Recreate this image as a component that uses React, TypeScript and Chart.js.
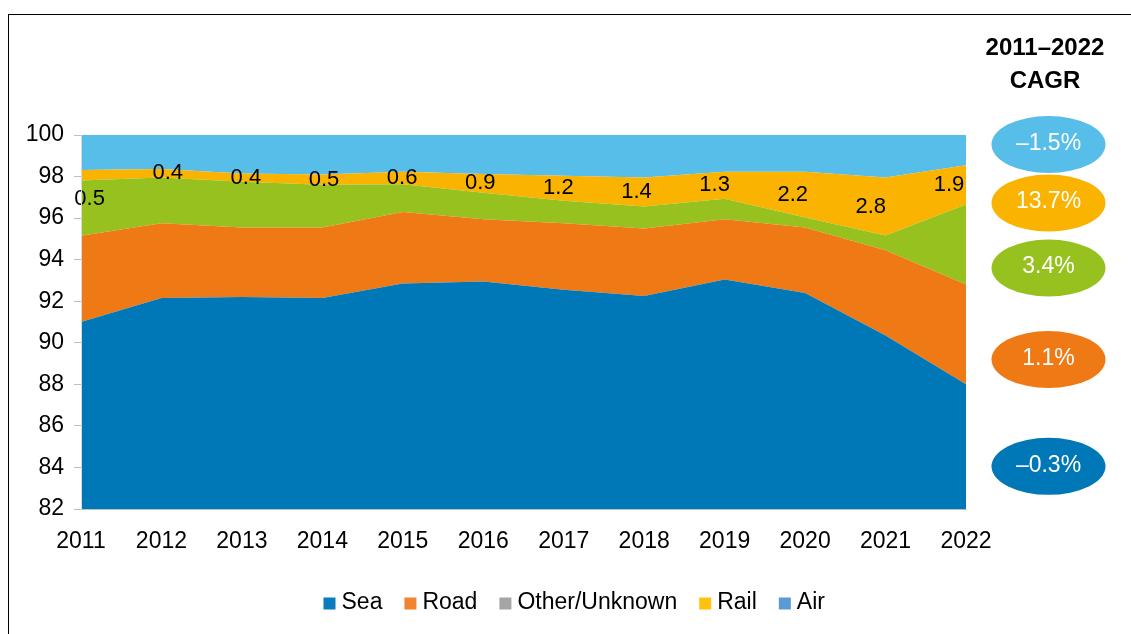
import React, { useEffect, useRef } from 'react';
import { Chart, registerables } from 'chart.js';

Chart.register(...registerables);

const years = ['2011', '2012', '2013', '2014', '2015', '2016', '2017', '2018', '2019', '2020', '2021', '2022'];
const seriesNames = ['Sea', 'Road', 'Other/Unknown', 'Rail', 'Air'];
const sea = [91.0, 92.15, 92.2, 92.15, 92.85, 92.95, 92.55, 92.25, 93.05, 92.4, 90.35, 88.0];
const road = [4.15, 3.6, 3.35, 3.4, 3.45, 3.0, 3.2, 3.25, 2.9, 3.15, 4.1, 4.8];
const other = [2.66, 2.21, 2.2, 2.05, 1.33, 1.27, 1.09, 1.06, 0.98, 0.48, 0.71, 3.85];
const rail = [0.5, 0.4, 0.4, 0.5, 0.6, 0.9, 1.2, 1.4, 1.3, 2.2, 2.8, 1.9];
const air = [1.69, 1.64, 1.85, 1.9, 1.77, 1.88, 1.96, 2.04, 1.77, 1.77, 2.04, 1.45];
const areaColors = ['#0077B6', '#EF7A15', '#97C11F', '#F9B300', '#57BDE9'];
const legendColors = ['#0A7BBF', '#F08433', '#A5A5A5', '#FFC20E', '#5B9BD5'];
const cagrTitle = ['2011–2022', 'CAGR'];
const cagrLabels = ['–1.5%', '13.7%', '3.4%', '1.1%', '–0.3%'];
const cagrColors = ['#57BDE9', '#F9B300', '#97C11F', '#EF7A15', '#0077B6'];
const yTicks = { min: 82, max: 100, step: 2 };

const FONT = '"Liberation Sans", Arial, Helvetica, sans-serif';

const overlayPlugin = {
  id: 'overlay',
  afterDatasetsDraw(chart: any) {
    const ctx = chart.ctx;
    const area = chart.chartArea;
    const railMeta = chart.getDatasetMeta(3);
    const otherMeta = chart.getDatasetMeta(2);
    ctx.save();
    ctx.font = `22px ${FONT}`;
    ctx.fillStyle = '#000';
    ctx.textAlign = 'center';
    ctx.textBaseline = 'middle';
    railMeta.data.forEach((pt: any, i: number) => {
      const lower = otherMeta.data[i];
      const x = area.left + 8.6 + (pt.x - area.left) * 0.971;
      let y = (pt.y + lower.y) / 2;
      if (i === 0) y += 24;
      ctx.fillText(rail[i].toFixed(1), x, y);
    });
    ctx.restore();
  },
  afterDraw(chart: any) {
    const ctx = chart.ctx;
    const area = chart.chartArea;
    ctx.save();
    // CAGR title
    ctx.font = `bold 24px ${FONT}`;
    ctx.fillStyle = '#000';
    ctx.textAlign = 'center';
    ctx.textBaseline = 'middle';
    const tx = area.right + 79;
    ctx.fillText(cagrTitle[0], tx, area.top - 87);
    ctx.fillText(cagrTitle[1], tx, area.top - 54);
    // ellipses
    const cx = area.right + 82.5;
    const offs = [9.5, 68, 133, 224.5, 331.3];
    ctx.font = `23px ${FONT}`;
    cagrLabels.forEach((lab, i) => {
      const cy = area.top + offs[i];
      ctx.beginPath();
      ctx.ellipse(cx, cy, 57, 28.5, 0, 0, Math.PI * 2);
      ctx.fillStyle = cagrColors[i];
      ctx.fill();
      ctx.fillStyle = '#fff';
      ctx.fillText(lab, cx, cy - 1);
    });
    // legend
    ctx.font = `23px ${FONT}`;
    ctx.textAlign = 'left';
    let x = 323.5;
    const ly = 603;
    seriesNames.forEach((name, i) => {
      ctx.fillStyle = legendColors[i];
      ctx.fillRect(x, ly - 5.5, 12, 12);
      ctx.fillStyle = '#000';
      ctx.fillText(name, x + 18, ly);
      x += 18 + ctx.measureText(name).width + 22;
    });
    ctx.restore();
  },
};

export default function App() {
  const ref = useRef<HTMLCanvasElement | null>(null);
  useEffect(() => {
    if (!ref.current) return;
    const values = [sea, road, other, rail, air];
    const chart = new Chart(ref.current, {
      type: 'line',
      data: {
        labels: years,
        datasets: values.map((arr, i) => ({
          label: seriesNames[i],
          data: arr,
          backgroundColor: areaColors[i],
          borderColor: areaColors[i],
          borderWidth: 0,
          pointRadius: 0,
          fill: i === 0 ? 'start' : '-1',
          tension: 0,
        })),
      },
      options: {
        animation: false,
        responsive: false,
        layout: { padding: { left: 0, right: 165, top: 135, bottom: 0 } },
        plugins: { legend: { display: false }, tooltip: { enabled: false } },
        scales: {
          x: {
            type: 'category',
            offset: false,
            grid: { display: false, drawTicks: false, tickLength: 0 },
            border: { display: true, color: '#BFBFBF', width: 1, z: 1 },
            ticks: { color: '#000', font: { family: FONT, size: 23 }, padding: 19, maxRotation: 0, autoSkip: false },
            afterFit: (s: any) => { s.height = 125; },
          },
          y: {
            stacked: true,
            min: yTicks.min,
            max: yTicks.max,
            grid: { display: true, drawOnChartArea: false, drawTicks: true, tickLength: 7, color: '#BFBFBF' },
            border: { display: true, color: '#D9D9D9', width: 1, z: 1 },
            ticks: { stepSize: yTicks.step, color: '#000', font: { family: FONT, size: 23 }, padding: 10 },
            afterFit: (s: any) => { s.width = 81; },
          },
        },
      },
      plugins: [overlayPlugin],
    });
    return () => chart.destroy();
  }, []);
  return (
    <div style={{ position: 'fixed', left: 0, top: 0, width: 1131, height: 634, overflow: 'hidden', background: '#fff' }}>
      <div style={{ position: 'absolute', left: 8, top: 14, width: 1200, height: 700, borderLeft: '1px solid #000', borderTop: '1px solid #000' }} />
      <canvas ref={ref} width={1131} height={634} style={{ position: 'absolute', left: 0, top: 0, width: 1131, height: 634 }} />
    </div>
  );
}
